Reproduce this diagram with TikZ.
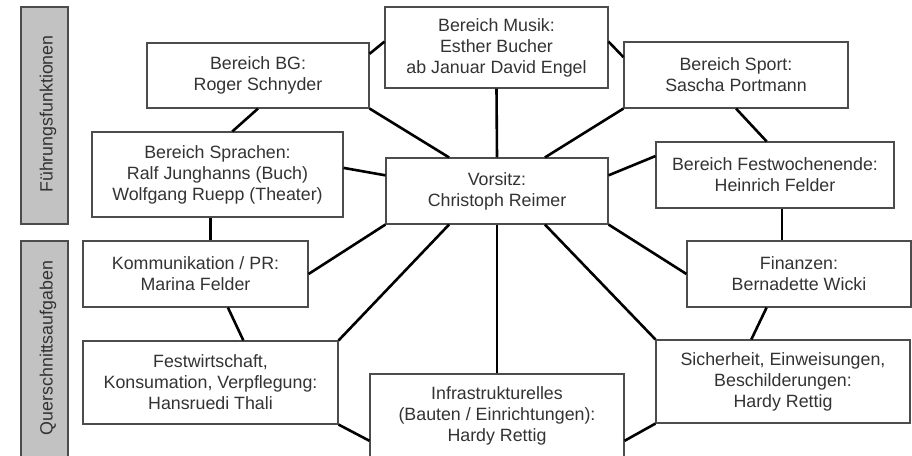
\documentclass[tikz,border=0pt]{standalone}
\usepackage{fontspec}
\setmainfont{Liberation Sans}
\usetikzlibrary{calc}

\tikzset{
  box/.style={draw=black!70,line width=1.1pt,fill=white,align=center,inner sep=2pt,
    text=black!80,font=\fontsize{17.8}{21}\selectfont},
  bar/.style={draw=black!70,line width=1.1pt,fill=black!24},
  barlabel/.style={rotate=90,text=black!80,font=\fontsize{17.8}{21}\selectfont},
  link/.style={line width=2.6pt}
}

\begin{document}
\begin{tikzpicture}[x=1pt,y=-1pt]
    \useasboundingbox (0,0) rectangle (912,455);
    \clip (0,0) rectangle (912,455);
    % Seitenbalken
    \draw[bar] (21,7) rectangle (68,224);
    \draw[bar] (21,241) rectangle (68,470);
    \node[barlabel] (fuehrung) at (48,114) {Führungsfunktionen};
    \node[barlabel] (quer) at (48,348) {Querschnittsaufgaben};
    % Bereiche
    \node[box,minimum width=223pt,minimum height=81pt] (musik) at (496.5,47.5) {Bereich Musik:\\Esther Bucher\\ab Januar David Engel};
    \node[box,minimum width=222pt,minimum height=65pt] (bg) at (258,75.5) {Bereich BG:\\Roger Schnyder};
    \node[box,minimum width=224pt,minimum height=66pt] (sport) at (736,75) {Bereich Sport:\\Sascha Portmann};
    \node[box,minimum width=251pt,minimum height=85pt] (sprachen) at (217.5,174.5) {Bereich Sprachen:\\Ralf Junghanns (Buch)\\Wolfgang Ruepp (Theater)};
    \node[box,minimum width=222pt,minimum height=66pt] (vorsitz) at (497,191) {Vorsitz:\\Christoph Reimer};
    \node[box,minimum width=238pt,minimum height=66pt] (fwe) at (775,175) {Bereich Festwochenende:\\Heinrich Felder};
    \node[box,minimum width=225pt,minimum height=66pt] (komm) at (195.5,274) {Kommunikation / PR:\\Marina Felder};
    \node[box,minimum width=224pt,minimum height=66pt] (fin) at (799,274) {Finanzen:\\Bernadette Wicki};
    \node[box,minimum width=255pt,minimum height=83pt] (fwirt) at (210.5,382.5) {Festwirtschaft,\\Konsumation, Verpflegung:\\Hansruedi Thali};
    \node[box,minimum width=254pt,minimum height=83pt] (sich) at (783,381.5) {Sicherheit, Einweisungen,\\Beschilderungen:\\Hardy Rettig};
    \node[box,minimum width=254pt,minimum height=84pt] (infra) at (497,416) {Infrastrukturelles\\(Bauten / Einrichtungen):\\Hardy Rettig};
    % Speichen zum Vorsitz
    \draw[link] (musik.south) -- (vorsitz.north);
    \draw[link] (bg.south east) -- (vorsitz.145);
    \draw[link] (sport.south west) -- (vorsitz.35);
    \draw[link] (sprachen.3) -- (vorsitz.172);
    \draw[link] (fwe.171) -- (vorsitz.8);
    \draw[link] (komm.east) -- (vorsitz.south west);
    \draw[link] (fin.west) -- (vorsitz.south east);
    \draw[link] (fwirt.north east) -- (vorsitz.215);
    \draw[link] (infra.north) -- (vorsitz.south);
    \draw[link] (sich.north west) -- (vorsitz.325);
    % Ring
    \draw[link] (bg.11) -- (musik.177);
    \draw[link] (musik.3) -- (sport.171);
    \draw[link] (sport.south) -- (fwe.104);
    \draw[link] (fwe.282) -- (fwe.282 |- fin.north);
    \draw[link] (fin.226) -- (sich.127);
    \draw[link] (sich.south west) -- (infra.349);
    \draw[link] (infra.191) -- (fwirt.south east);
    \draw[link] (fwirt.52) -- (komm.314);
    \draw[link] (komm.north -| sprachen.261) -- (sprachen.261);
    \draw[link] (sprachen.71) -- (bg.south);
\end{tikzpicture}
\end{document}
